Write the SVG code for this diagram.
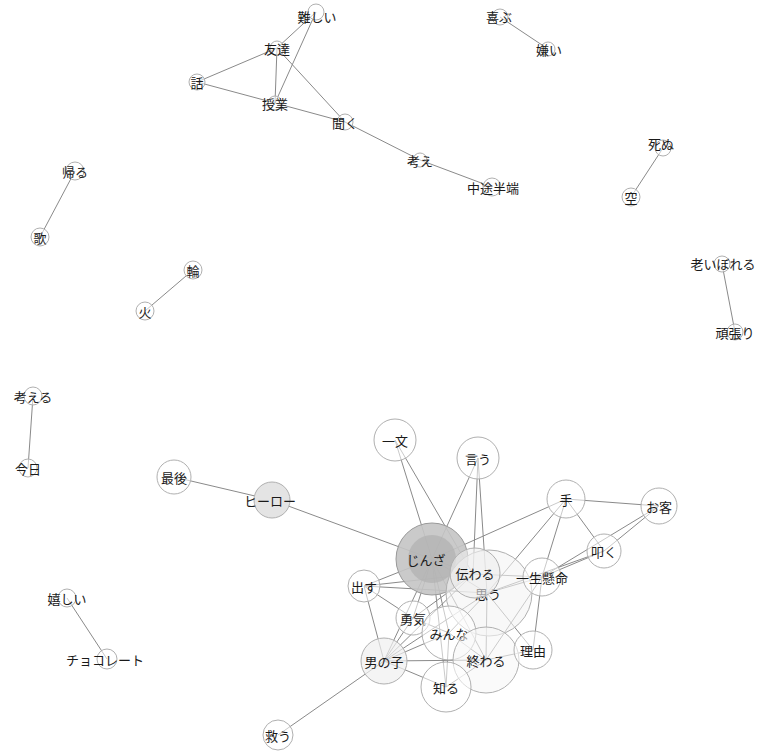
<svg xmlns="http://www.w3.org/2000/svg" width="765" height="751" viewBox="0 0 765 751">
<style>
.e{stroke:#8a8a8a;stroke-width:1;fill:none}
.n circle{fill:#fff;fill-opacity:0.55;stroke:#b0b0b0;stroke-width:1}
.n text{font-family:"Noto Sans CJK JP","Noto Sans",sans-serif;font-size:13px;fill:#1a1a1a;text-anchor:middle;dominant-baseline:central}
.s text{font-size:13px}
</style>
<rect width="765" height="751" fill="#fff"/>
<g id="edges">
<line class="e" x1="316" y1="12" x2="277" y2="48"/>
<line class="e" x1="316" y1="12" x2="275" y2="103"/>
<line class="e" x1="277" y1="48" x2="197" y2="82"/>
<line class="e" x1="277" y1="48" x2="275" y2="103"/>
<line class="e" x1="277" y1="48" x2="345" y2="122"/>
<line class="e" x1="197" y1="82" x2="275" y2="103"/>
<line class="e" x1="275" y1="103" x2="345" y2="122"/>
<line class="e" x1="345" y1="122" x2="420" y2="160"/>
<line class="e" x1="420" y1="160" x2="492" y2="187"/>
<line class="e" x1="500" y1="17" x2="548" y2="49"/>
<line class="e" x1="663" y1="148" x2="631" y2="197"/>
<line class="e" x1="722" y1="264" x2="735" y2="332"/>
<line class="e" x1="75" y1="171" x2="40" y2="237"/>
<line class="e" x1="193" y1="270" x2="145" y2="311"/>
<line class="e" x1="33" y1="396" x2="28" y2="468"/>
<line class="e" x1="67" y1="598" x2="107" y2="659"/>
<line class="e" x1="174" y1="477" x2="272" y2="500"/>
<line class="e" x1="272" y1="500" x2="432" y2="559"/>
<line class="e" x1="384" y1="661" x2="278" y2="735"/>
<line class="e" x1="395" y1="440" x2="432" y2="559"/>
<line class="e" x1="395" y1="440" x2="473" y2="574"/>
<line class="e" x1="478" y1="458" x2="432" y2="559"/>
<line class="e" x1="478" y1="458" x2="473" y2="574"/>
<line class="e" x1="478" y1="458" x2="487" y2="593"/>
<line class="e" x1="566" y1="499" x2="432" y2="559"/>
<line class="e" x1="566" y1="499" x2="659" y2="506"/>
<line class="e" x1="566" y1="499" x2="604" y2="551"/>
<line class="e" x1="566" y1="499" x2="542" y2="577"/>
<line class="e" x1="566" y1="499" x2="487" y2="593"/>
<line class="e" x1="659" y1="506" x2="604" y2="551"/>
<line class="e" x1="659" y1="506" x2="542" y2="577"/>
<line class="e" x1="604" y1="551" x2="542" y2="577"/>
<line class="e" x1="604" y1="551" x2="487" y2="593"/>
<line class="e" x1="542" y1="577" x2="533" y2="650"/>
<line class="e" x1="542" y1="577" x2="487" y2="593"/>
<line class="e" x1="542" y1="577" x2="486" y2="660"/>
<line class="e" x1="432" y1="559" x2="473" y2="574"/>
<line class="e" x1="432" y1="559" x2="487" y2="593"/>
<line class="e" x1="432" y1="559" x2="364" y2="586"/>
<line class="e" x1="432" y1="559" x2="413" y2="618"/>
<line class="e" x1="432" y1="559" x2="449" y2="633"/>
<line class="e" x1="432" y1="559" x2="384" y2="661"/>
<line class="e" x1="432" y1="559" x2="486" y2="660"/>
<line class="e" x1="432" y1="559" x2="446" y2="687"/>
<line class="e" x1="364" y1="586" x2="473" y2="574"/>
<line class="e" x1="364" y1="586" x2="487" y2="593"/>
<line class="e" x1="364" y1="586" x2="413" y2="618"/>
<line class="e" x1="364" y1="586" x2="384" y2="661"/>
<line class="e" x1="413" y1="618" x2="473" y2="574"/>
<line class="e" x1="413" y1="618" x2="384" y2="661"/>
<line class="e" x1="413" y1="618" x2="449" y2="633"/>
<line class="e" x1="384" y1="661" x2="473" y2="574"/>
<line class="e" x1="384" y1="661" x2="487" y2="593"/>
<line class="e" x1="384" y1="661" x2="449" y2="633"/>
<line class="e" x1="384" y1="661" x2="486" y2="660"/>
<line class="e" x1="384" y1="661" x2="446" y2="687"/>
<line class="e" x1="449" y1="633" x2="487" y2="593"/>
<line class="e" x1="449" y1="633" x2="486" y2="660"/>
<line class="e" x1="449" y1="633" x2="446" y2="687"/>
<line class="e" x1="486" y1="660" x2="487" y2="593"/>
<line class="e" x1="486" y1="660" x2="533" y2="650"/>
<line class="e" x1="486" y1="660" x2="446" y2="687"/>
<line class="e" x1="533" y1="650" x2="487" y2="593"/>
<line class="e" x1="473" y1="574" x2="542" y2="577"/>
</g>
<g id="n-nanshii" class="n s"><circle cx="316" cy="12" r="8"/><text x="317" y="16">難しい</text></g>
<g id="n-tomodachi" class="n s"><circle cx="277" cy="48" r="7"/><text x="277" y="48">友達</text></g>
<g id="n-hanashi" class="n s"><circle cx="197" cy="82" r="8"/><text x="197" y="82">話</text></g>
<g id="n-jugyo" class="n s"><circle cx="275" cy="103" r="7"/><text x="275" y="103">授業</text></g>
<g id="n-kiku" class="n s"><circle cx="345" cy="122" r="8"/><text x="345" y="122">聞く</text></g>
<g id="n-kangae" class="n s"><circle cx="420" cy="160" r="7"/><text x="420" y="160">考え</text></g>
<g id="n-chuto" class="n s"><circle cx="492" cy="187" r="9"/><text x="493" y="187">中途半端</text></g>
<g id="n-yorokobu" class="n s"><circle cx="500" cy="17" r="8"/><text x="499" y="16">喜ぶ</text></g>
<g id="n-kirai" class="n s"><circle cx="548" cy="49" r="7"/><text x="549" y="49">嫌い</text></g>
<g id="n-shinu" class="n s"><circle cx="663" cy="148" r="8"/><text x="661" y="143">死ぬ</text></g>
<g id="n-sora" class="n s"><circle cx="631" cy="197" r="9"/><text x="631" y="197">空</text></g>
<g id="n-oibore" class="n s"><circle cx="722" cy="264" r="8"/><text x="723" y="263">老いぼれる</text></g>
<g id="n-ganbari" class="n s"><circle cx="735" cy="332" r="8"/><text x="735" y="332">頑張り</text></g>
<g id="n-kaeru" class="n s"><circle cx="75" cy="171" r="9"/><text x="75" y="171">帰る</text></g>
<g id="n-uta" class="n s"><circle cx="40" cy="237" r="9"/><text x="40" y="237">歌</text></g>
<g id="n-wa" class="n s"><circle cx="193" cy="270" r="9"/><text x="193" y="270">輪</text></g>
<g id="n-hi" class="n s"><circle cx="145" cy="311" r="9"/><text x="145" y="311">火</text></g>
<g id="n-kangaeru" class="n s"><circle cx="33" cy="396" r="9"/><text x="33" y="396">考える</text></g>
<g id="n-kyo" class="n s"><circle cx="28" cy="468" r="9"/><text x="28" y="468">今日</text></g>
<g id="n-ureshii" class="n s"><circle cx="67" cy="598" r="9"/><text x="67" y="598">嬉しい</text></g>
<g id="n-choco" class="n s"><circle cx="107" cy="659" r="10"/><text x="105" y="659">チョコレート</text></g>
<g id="n-saigo" class="n"><circle cx="174" cy="477" r="17"/><text x="174" y="477">最後</text></g>
<g id="n-hero" class="n"><circle cx="272" cy="500" r="18" style="fill:#e4e4e4;fill-opacity:1"/><text x="270" y="500">ヒーロー</text></g>
<g id="n-sukuu" class="n"><circle cx="278" cy="735" r="15"/><text x="278" y="735">救う</text></g>
<g id="n-ichibun" class="n"><circle cx="395" cy="440" r="21"/><text x="395" y="440">一文</text></g>
<g id="n-iu" class="n"><circle cx="478" cy="458" r="21"/><text x="478" y="458">言う</text></g>
<g id="n-te" class="n"><circle cx="566" cy="499" r="19"/><text x="566" y="499">手</text></g>
<g id="n-okyaku" class="n"><circle cx="659" cy="506" r="18"/><text x="659" y="506">お客</text></g>
<g id="n-tataku" class="n"><circle cx="604" cy="551" r="17"/><text x="604" y="551">叩く</text></g>
<g id="n-jinza" class="n"><circle cx="432" cy="559" r="36" style="fill:#c4c4c4;fill-opacity:0.9;stroke:#999"/><circle cx="432" cy="559" r="24" style="fill:#b0b0b0;fill-opacity:0.7;stroke:none"/><text x="426" y="559">じんざ</text></g>
<g id="n-omou" class="n"><circle cx="489" cy="593" r="43" style="fill:#f4f4f4;fill-opacity:0.6"/><text x="488" y="593">思う</text></g>
<g id="n-tsutawaru" class="n"><circle cx="475" cy="573" r="25" style="fill:#eeeeee;fill-opacity:0.6"/><text x="475" y="573">伝わる</text></g>
<g id="n-isshokenmei" class="n"><circle cx="542" cy="577" r="19"/><text x="542" y="577">一生懸命</text></g>
<g id="n-dasu" class="n"><circle cx="364" cy="586" r="16"/><text x="364" y="586">出す</text></g>
<g id="n-yuki" class="n"><circle cx="413" cy="618" r="17"/><text x="413" y="618">勇気</text></g>
<g id="n-minna" class="n"><circle cx="449" cy="633" r="27"/><text x="449" y="633">みんな</text></g>
<g id="n-owaru" class="n"><circle cx="486" cy="660" r="33" style="fill:#f6f6f6;fill-opacity:0.6"/><text x="486" y="660">終わる</text></g>
<g id="n-otokonoko" class="n"><circle cx="384" cy="661" r="23" style="fill:#f0f0f0;fill-opacity:0.7"/><text x="384" y="661">男の子</text></g>
<g id="n-riyu" class="n"><circle cx="533" cy="650" r="19"/><text x="533" y="650">理由</text></g>
<g id="n-shiru" class="n"><circle cx="446" cy="687" r="25"/><text x="446" y="687">知る</text></g>
</svg>
